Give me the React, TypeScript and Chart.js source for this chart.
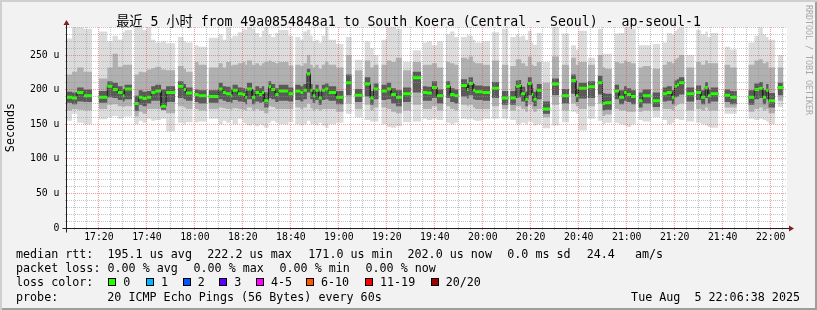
import React, { useEffect, useRef } from 'react';
import { Chart, registerables } from 'chart.js';

Chart.register(...registerables);

const MONO = "'DejaVu Sans Mono', 'Noto Sans CJK SC', monospace";
const TITLE = '最近 5 小时 from 49a0854848a1 to South Koera (Central - Seoul) - ap-seoul-1';
const Y_TITLE = 'Seconds';

// x in minutes after 17:00
const X_MIN = 6.7;
const X_MAX = 306.8;
const Y_MAX = 290.5;
const SEG_END = 305.3;

// start of each sampled run (minutes after 17:00); a run lasts until the next start
const segStart = [
  6.7, 8.8, 10.9, 13.6, 17.1,
  19.9, 23.5, 25.7, 27.9, 29.9, 30.7, 33.8,
  34.8, 36.6, 38.2, 40.0, 41.8, 43.5, 45.9, 48.0, 51.8,
  52.9, 55.3, 56.3, 59.1,
  59.9, 61.5, 65.0,
  65.7, 69.9, 71.6, 73.0, 75.0, 75.7, 77.9, 79.9, 81.0, 81.7, 83.8, 85.2, 86.8, 87.9, 88.9, 90.7, 91.8, 93.5, 94.9, 99.0, 101.1,
  101.8, 104.0, 105.2, 106.7, 108.1, 109.1, 110.2, 111.6, 112.9, 114.3, 115.7, 118.9, 122.0,
  123.0, 125.4,
  126.6, 129.9,
  130.7, 133.1, 134.5, 136.6,
  137.7, 140.0, 141.8, 143.8, 146.3,
  146.7, 150.2,
  150.7, 154.3,
  154.9, 156.7, 158.8, 160.9, 163.6,
  164.6, 166.4, 168.2, 169.9,
  170.9, 173.4, 174.1, 175.9, 176.8, 179.9, 183.1,
  183.8, 186.8,
  187.9, 190.7,
  191.4, 193.8, 195.2, 196.0, 197.7, 198.8, 200.4, 201.1, 202.5, 204.6,
  205.0, 208.1,
  208.8, 211.8,
  212.9, 216.0,
  216.8, 218.8, 219.9, 223.4,
  223.8, 226.8,
  227.9, 229.9, 231.0, 233.8,
  234.9, 236.8, 238.9, 240.0, 241.8, 243.8,
  244.9, 246.6, 250.2,
  250.7, 253.9,
  254.9, 256.7, 258.8, 259.9, 260.9, 261.8, 264.1,
  264.8, 268.2,
  268.9, 271.0, 272.7, 273.8, 275.0, 278.2,
  280.7, 283.1, 285.9,
  290.7, 293.2, 295.2, 296.7, 298.1, 299.1, 301.8,
  302.9,
];

// median rtt (us)
const median = [
  189, 188, 196, 191, null,
  189, 205, 200, 196, 191, 201, null,
  180, 189, 187, 189, 196, 198, 176, 196, null,
  205, 200, 195, null,
  193, 191, null,
  190, 201, 196, 194, 191, 199, 194, 193, 189, 201, 189, 196, 193, 196, 184, 204, 200, 193, 198, 194, null,
  198, 196, 199, 223, 199, 191, 199, 188, 199, 201, 196, 189, null,
  210, null,
  192, null,
  208, 188, 201, null,
  198, 201, 193, 189, null,
  194, null,
  217, null,
  196, 195, 203, 191, null,
  205, 193, 191, null,
  206, 200, 209, 199, 197, 196, null,
  202, null,
  188, null,
  188, 205, 206, 194, 186, 209, 193, 186, 199, null,
  172, null,
  208, null,
  191, null,
  213, 191, 202, null,
  204, null,
  210, 180, 181, null,
  198, 189, 196, 193, 190, null,
  184, 191, null,
  184, null,
  194, 196, 189, 205, 207, 210, null,
  194, null,
  196, 189, 203, 191, 194, null,
  192, 189, null,
  189, 200, 202, 189, 199, 184, null,
  203,
];

// fastest ping (us)
const pingMin = [
  155, 165, 152, 150, null,
  157, 160, 162, 158, 160, 161, null,
  150, 155, 152, 158, 155, 156, 158, 140, null,
  152, 150, 153, null,
  153, 154, null,
  158, 150, 155, 152, 156, 150, 158, 152, 150, 148, 150, 147, 150, 148, 145, 152, 155, 152, 150, 153, null,
  150, 148, 150, 155, 150, 150, 148, 152, 148, 145, 150, 152, null,
  165, null,
  160, null,
  156, 154, 154, null,
  150, 146, 145, 147, null,
  153, null,
  154, null,
  158, 156, 158, 156, null,
  152, 150, 152, null,
  158, 156, 158, 156, 155, 158, null,
  158, null,
  158, null,
  156, 150, 150, 152, 150, 154, 152, 148, 150, null,
  144, null,
  148, null,
  153, null,
  168, 165, 141, null,
  158, null,
  155, 150, 152, null,
  152, 150, 148, 146, 150, null,
  156, 154, null,
  160, null,
  156, 150, 152, 158, 158, 156, null,
  154, null,
  152, 150, 148, 146, 145, null,
  165, 165, null,
  158, 156, 158, 156, 154, 150, null,
  175,
];

// slowest ping (us)
const pingMax = [
  274, 290, 290, 288, null,
  284, 270, 278, 272, 283, 286, null,
  292, 292, 286, 290, 272, 268, 270, 267, null,
  276, 270, 268, null,
  264, 262, null,
  275, 280, 272, 292, 275, 278, 283, 288, 286, 292, 288, 282, 276, 285, 292, 280, 276, 282, 286, 278, null,
  276, 272, 284, 287, 278, 270, 272, 268, 278, 290, 272, 266, null,
  276, null,
  243, null,
  270, 260, 250, null,
  272, 290, 292, 288, null,
  240, null,
  257, null,
  268, 270, 264, 270, null,
  280, 284, 276, null,
  276, 280, 278, 272, 268, 270, null,
  283, null,
  288, null,
  276, 280, 276, 278, 272, 285, 268, 265, 282, null,
  240, null,
  290, null,
  281, null,
  264, 258, 285, null,
  246, null,
  288, 252, 252, null,
  281, 282, 290, 290, 288, null,
  264, 264, null,
  266, null,
  268, 282, 280, 285, 288, 290, null,
  250, null,
  286, 280, 284, 276, 282, null,
  262, 258, null,
  268, 278, 290, 280, 276, 272, null,
  250,
];

// middle smoke band, lower / upper edge (us)
const bandLo = [
  170, 172, 171, 170, null,
  172, 178, 179, 176, 175, 176, null,
  161, 168, 165, 172, 172, 172, 170, 166, null,
  176, 174, 172, null,
  172, 170, null,
  172, 174, 173, 172, 171, 173, 172, 171, 170, 174, 170, 172, 170, 170, 166, 176, 175, 172, 172, 172, null,
  174, 172, 174, 180, 173, 170, 172, 170, 172, 172, 172, 168, null,
  180, null,
  172, null,
  178, 170, 174, null,
  174, 172, 168, 166, null,
  170, null,
  178, null,
  172, 172, 176, 170, null,
  176, 172, 170, null,
  178, 176, 178, 174, 172, 172, null,
  176, null,
  172, null,
  170, 176, 176, 172, 168, 178, 172, 168, 172, null,
  160, null,
  178, null,
  170, null,
  180, 176, 172, null,
  176, null,
  180, 162, 164, null,
  172, 170, 170, 168, 168, null,
  168, 170, null,
  170, null,
  172, 172, 170, 176, 178, 180, null,
  170, null,
  172, 170, 174, 170, 170, null,
  174, 174, null,
  168, 172, 174, 170, 172, 166, null,
  184,
];

const bandHi = [
  222, 226, 232, 226, null,
  216, 232, 252, 233, 236, 236, null,
  222, 226, 225, 229, 231, 233, 229, 228, null,
  234, 230, 226, null,
  240, 236, null,
  232, 238, 232, 240, 235, 236, 238, 240, 236, 242, 236, 238, 235, 238, 240, 242, 240, 238, 240, 235, null,
  236, 234, 238, 250, 236, 232, 236, 230, 236, 240, 236, 232, null,
  250, null,
  228, null,
  242, 232, 236, null,
  236, 242, 240, 246, null,
  228, null,
  240, null,
  236, 236, 238, 232, null,
  240, 238, 236, null,
  246, 244, 248, 240, 238, 236, null,
  242, null,
  236, null,
  234, 244, 244, 238, 234, 248, 236, 234, 240, null,
  210, null,
  248, null,
  236, null,
  246, 236, 240, null,
  236, null,
  250, 232, 230, null,
  240, 238, 242, 240, 238, null,
  232, 234, null,
  230, null,
  236, 240, 238, 244, 246, 250, null,
  232, null,
  240, 236, 242, 238, 238, null,
  236, 232, null,
  236, 242, 244, 238, 240, 232, null,
  232,
];

// dark core around the median, lower / upper edge (us)
const coreLo = [
  181, 179, 183, 182, null,
  181, 189, 188, 185, 183, 186, null,
  169, 178, 176, 180, 184, 184, 171, 182, null,
  188, 186, 184, null,
  182, 180, null,
  181, 186, 184, 182, 181, 185, 183, 182, 179, 186, 179, 183, 181, 182, 174, 188, 186, 182, 184, 183, null,
  185, 183, 186, 196, 186, 181, 185, 178, 185, 186, 184, 179, null,
  192, null,
  182, null,
  190, 178, 186, null,
  185, 186, 180, 176, null,
  182, null,
  196, null,
  184, 184, 188, 180, null,
  188, 182, 180, null,
  190, 187, 192, 186, 185, 184, null,
  188, null,
  178, null,
  178, 188, 189, 183, 176, 192, 182, 176, 186, null,
  165, null,
  192, null,
  180, null,
  194, 182, 187, null,
  188, null,
  193, 170, 171, null,
  186, 179, 184, 182, 179, null,
  174, 180, null,
  175, null,
  183, 184, 179, 189, 190, 193, null,
  183, null,
  185, 179, 188, 180, 183, null,
  182, 179, null,
  178, 186, 188, 179, 186, 174, null,
  192,
];

const coreHi = [
  197, 196, 203, 200, null,
  198, 212, 210, 205, 201, 207, null,
  191, 199, 197, 198, 205, 207, 200, 205, null,
  212, 208, 203, null,
  200, 199, null,
  199, 210, 205, 204, 200, 207, 203, 202, 198, 210, 199, 205, 202, 205, 196, 212, 208, 202, 207, 203, null,
  207, 205, 208, 230, 208, 200, 207, 197, 207, 209, 205, 198, null,
  222, null,
  201, null,
  218, 198, 209, null,
  207, 210, 202, 199, null,
  203, null,
  226, null,
  205, 204, 212, 200, null,
  212, 202, 200, null,
  215, 209, 218, 208, 206, 205, null,
  211, null,
  198, null,
  198, 213, 214, 204, 197, 218, 202, 197, 208, null,
  183, null,
  216, null,
  201, null,
  222, 201, 210, null,
  212, null,
  220, 195, 194, null,
  207, 199, 205, 202, 199, null,
  196, 200, null,
  196, null,
  203, 205, 199, 213, 215, 218, null,
  203, null,
  206, 199, 211, 200, 203, null,
  200, 198, null,
  199, 209, 211, 199, 208, 195, null,
  210,
];

const lossLabels = ['0', '1', '2', '3', '4-5', '6-10', '11-19', '20/20'];
const lossColors = ['#26ff00', '#00b8ff', '#0059ff', '#5e00ff', '#ff00ff', '#ff5500', '#ff0000', '#a10000'];
const lossX = [108.3, 146, 182.7, 219.3, 256, 306, 365, 430.7];

const legendRows: { y: number; items: [number, string][] }[] = [
  { y: 254.4, items: [[16, 'median rtt:  195.1 us avg'], [207.3, '222.2 us max'], [308.3, '171.0 us min'], [407.5, '202.0 us now'], [507.3, '0.0 ms sd'], [586.7, '24.4'], [635, 'am/s']] },
  { y: 268.3, items: [[16, 'packet loss: 0.00 % avg'], [193.5, '0.00 % max'], [279.5, '0.00 % min'], [365.5, '0.00 % now']] },
  { y: 281.8, items: [[16, 'loss color:']] },
  { y: 296.6, items: [[16, 'probe:'], [107.3, '20 ICMP Echo Pings (56 Bytes) every 60s']] },
];
const STAMP = 'Tue Aug  5 22:06:38 2025';
const WATERMARK = 'RRDTOOL / TOBI OETIKER';

const MINOR = 'rgba(150,150,150,0.55)';
const MAJOR = 'rgba(222,79,79,0.55)';

function runPoints(vals: (number | null)[]) {
  const pts: { x: number; y: number | null }[] = [];
  for (let i = 0; i < segStart.length; i++) {
    const s = segStart[i];
    const e = i + 1 < segStart.length ? segStart[i + 1] : SEG_END;
    const v = vals[i];
    if (v === null || v === undefined) {
      pts.push({ x: s, y: null });
    } else {
      pts.push({ x: s, y: v }, { x: e, y: v });
    }
  }
  return pts;
}

function flatPoints(vals: (number | null)[]) {
  const pts: { x: number; y: number | null }[] = [];
  for (let i = 0; i < segStart.length; i++) {
    const s = segStart[i];
    const e = i + 1 < segStart.length ? segStart[i + 1] : SEG_END;
    const v = vals[i];
    if (v === null || v === undefined) continue;
    pts.push({ x: s, y: v }, { x: e, y: v }, { x: e, y: null });
  }
  return pts;
}

function hhmm(m: number) {
  const h = 17 + Math.floor(m / 60);
  const mm = Math.round(m % 60);
  return `${h}:${mm < 10 ? '0' + mm : mm}`;
}

const decor = {
  id: 'decor',
  beforeDraw(chart: any) {
    const { ctx, chartArea: a } = chart;
    ctx.save();
    ctx.fillStyle = '#ffffff';
    ctx.fillRect(a.left, a.top, a.right - a.left, a.bottom - a.top);
    ctx.restore();
  },
  afterDraw(chart: any) {
    const { ctx, chartArea: a } = chart;
    const ax = Math.round(a.left) - 0.5;
    const ay = Math.round(a.bottom) + 0.5;
    ctx.save();
    ctx.strokeStyle = '#1f1f1f';
    ctx.lineWidth = 1;
    ctx.beginPath();
    ctx.moveTo(ax, ay + 4);
    ctx.lineTo(ax, a.top - 4);
    ctx.moveTo(ax - 4, ay);
    ctx.lineTo(a.right + 4, ay);
    ctx.stroke();
    ctx.fillStyle = '#7f1f1f';
    ctx.beginPath();
    ctx.moveTo(ax - 3, a.top - 2);
    ctx.lineTo(ax + 3, a.top - 2);
    ctx.lineTo(ax, a.top - 7);
    ctx.closePath();
    ctx.fill();
    ctx.beginPath();
    ctx.moveTo(a.right + 2, ay - 3);
    ctx.lineTo(a.right + 2, ay + 3);
    ctx.lineTo(a.right + 7, ay);
    ctx.closePath();
    ctx.fill();
    ctx.restore();
  },
};

const smoke = (data: any, color: string, fill: any) => ({
  data,
  borderColor: 'rgba(0,0,0,0)',
  borderWidth: 0,
  backgroundColor: color,
  fill,
  pointRadius: 0,
  pointHoverRadius: 0,
  spanGaps: false,
  tension: 0,
});

export default function App() {
  const ref = useRef<HTMLCanvasElement>(null);

  useEffect(() => {
    const canvas = ref.current;
    if (!canvas) return;
    const chart = new Chart(canvas, {
      type: 'line',
      data: {
        datasets: [
          {
            data: flatPoints(median),
            borderColor: '#26ff00',
            borderWidth: 3,
            borderCapStyle: 'butt',
            pointRadius: 0,
            fill: false,
            spanGaps: false,
            tension: 0,
          } as any,
          {
            data: runPoints(median),
            borderColor: '#202020',
            borderWidth: 1,
            pointRadius: 0,
            fill: false,
            spanGaps: false,
            tension: 0,
          } as any,
          smoke(runPoints(coreHi), '#5a5a5a', '+1'),
          smoke(runPoints(coreLo), 'rgba(0,0,0,0)', false),
          smoke(runPoints(bandHi), '#b0b0b0', '+1'),
          smoke(runPoints(bandLo), 'rgba(0,0,0,0)', false),
          smoke(runPoints(pingMax), '#dcdcdc', '+1'),
          smoke(runPoints(pingMin), 'rgba(0,0,0,0)', false),
        ],
      },
      options: {
        animation: false,
        responsive: false,
        devicePixelRatio: 1,
        events: [],
        layout: { padding: { left: 0, right: 0, top: 0, bottom: 0 } },
        plugins: {
          legend: { display: false },
          tooltip: { enabled: false },
          title: {
            display: true,
            text: TITLE,
            color: '#000000',
            font: { family: MONO, size: 13.2, weight: 'normal', lineHeight: 0.65 },
            padding: { top: 18.1, bottom: 0.32 },
          },
        },
        scales: {
          x: {
            type: 'linear',
            min: X_MIN,
            max: X_MAX,
            afterFit: (s: any) => {
              s.height = 82;
            },
            grid: {
              z: 1,
              drawTicks: true,
              tickLength: 2,
              color: (c: any) => (c.tick && Math.round(c.tick.value) % 20 === 0 ? MAJOR : MINOR),
              tickColor: (c: any) => (c.tick && Math.round(c.tick.value) % 20 === 0 ? MAJOR : MINOR),
            },
            border: { display: false, dash: [1, 1] },
            ticks: {
              stepSize: 5,
              maxTicksLimit: 1000,
              includeBounds: false,
              autoSkip: false,
              maxRotation: 0,
              minRotation: 0,
              padding: 1.4,
              color: '#000000',
              font: { family: MONO, size: 9.8 },
              callback: (v: any) => (Math.round(v) % 20 === 0 ? hhmm(Math.round(v)) : ''),
            },
          },
          y: {
            type: 'linear',
            min: 0,
            max: Y_MAX,
            afterFit: (s: any) => {
              s.width = 67;
            },
            title: {
              display: true,
              text: Y_TITLE,
              color: '#000000',
              font: { family: MONO, size: 11.7 },
              padding: { top: 3.5, bottom: 0 },
            },
            grid: {
              z: 1,
              drawTicks: true,
              tickLength: 2,
              color: (c: any) => (c.tick && Math.round(c.tick.value) % 50 === 0 ? MAJOR : MINOR),
              tickColor: (c: any) => (c.tick && Math.round(c.tick.value) % 50 === 0 ? MAJOR : MINOR),
            },
            border: { display: false, dash: [1, 1] },
            ticks: {
              stepSize: 10,
              maxTicksLimit: 1000,
              includeBounds: false,
              autoSkip: false,
              padding: 5.5,
              color: '#000000',
              font: { family: MONO, size: 9.8 },
              callback: (v: any) => {
                const n = Math.round(v);
                if (n === 0) return '0';
                return n % 50 === 0 ? `${n} u` : '';
              },
            },
          },
          // empty right-hand margin so the canvas stays 817 wide while the plot ends at 787
          yRight: {
            type: 'linear',
            position: 'right',
            display: true,
            afterFit: (s: any) => {
              s.width = 30;
            },
            grid: { display: false, drawTicks: false },
            border: { display: false },
            ticks: { display: false },
          },
        },
      } as any,
      plugins: [decor],
    });
    return () => chart.destroy();
  }, []);

  const textStyle: React.CSSProperties = {
    position: 'absolute',
    fontFamily: MONO,
    fontSize: '11.7px',
    lineHeight: '14px',
    whiteSpace: 'pre',
    color: '#000',
  };

  return (
    <div
      style={{
        position: 'absolute',
        left: 0,
        top: 0,
        width: 817,
        height: 310,
        background: '#f2f2f2',
        overflow: 'hidden',
      }}
    >
      <canvas
        ref={ref}
        width={817}
        height={310}
        style={{ position: 'absolute', left: 0, top: 0, width: 817, height: 310 }}
      />
      {legendRows.map((row, r) =>
        row.items.map(([x, t], k) => (
          <span key={`${r}-${k}`} style={{ ...textStyle, left: x, top: row.y - 7 }}>
            {t}
          </span>
        ))
      )}
      {lossLabels.map((lab, i) => (
        <React.Fragment key={lab}>
          <div
            style={{
              position: 'absolute',
              left: lossX[i],
              top: 281.8 - 4,
              width: 8,
              height: 8,
              boxSizing: 'border-box',
              border: '1px solid #000',
              background: lossColors[i],
            }}
          />
          <span style={{ ...textStyle, left: lossX[i] + 15, top: 281.8 - 7 }}>{lab}</span>
        </React.Fragment>
      ))}
      <span style={{ ...textStyle, right: 17, top: 296.6 - 7 }}>{STAMP}</span>
      <span
        style={{
          position: 'absolute',
          left: 802.7,
          top: 5,
          writingMode: 'vertical-rl',
          fontFamily: MONO,
          fontSize: '8.3px',
          lineHeight: '12px',
          whiteSpace: 'pre',
          color: '#a8a8a8',
        }}
      >
        {WATERMARK}
      </span>
      <div
        style={{
          position: 'absolute',
          left: 0,
          top: 0,
          width: 817,
          height: 310,
          boxShadow: 'inset 2px 2px 0 #cfcfcf, inset -2px -2px 0 #9e9e9e',
          pointerEvents: 'none',
        }}
      />
    </div>
  );
}
